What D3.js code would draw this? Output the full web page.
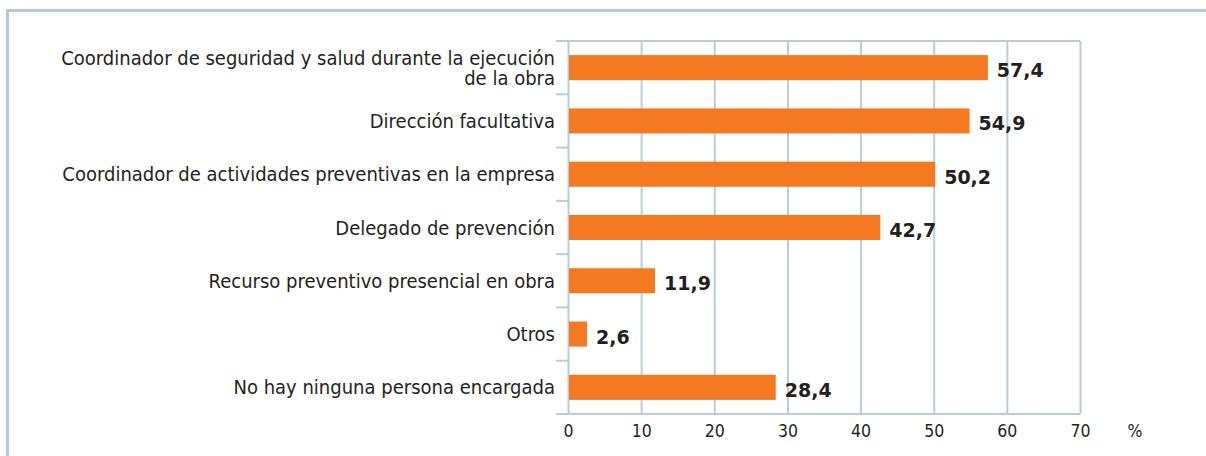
<!DOCTYPE html>
<html>
<head>
<meta charset="utf-8">
<script src="https://cdn.jsdelivr.net/npm/d3@7"></script>
<style>
  body { margin: 0; background: #ffffff; }
  text { font-family: "DejaVu Sans", Verdana, sans-serif; fill: #231f20; }
  .cond { font-family: "DejaVu Sans Condensed", "DejaVu Sans", sans-serif; font-stretch: condensed; }
</style>
</head>
<body>
<div id="chart"></div>
<script>
// DATA
var categories = [
  "Coordinador de seguridad y salud durante la ejecución\nde la obra",
  "Dirección facultativa",
  "Coordinador de actividades preventivas en la empresa",
  "Delegado de prevención",
  "Recurso preventivo presencial en obra",
  "Otros",
  "No hay ninguna persona encargada"
];
var values = [57.4, 54.9, 50.2, 42.7, 11.9, 2.6, 28.4];
var xTicks = [0, 10, 20, 30, 40, 50, 60, 70];
var unitLabel = "%";

// SVG SET UP
var svgWidth = 1206;
var svgHeight = 456;
var margin = { top: 41, left: 568 };
var width = 512;
var height = 373;

var gridColor = "#b7cdda";
var barColor = "#f47920";

var svg = d3.select("#chart")
  .append("svg")
  .attr("width", svgWidth)
  .attr("height", svgHeight);

// outer frame (top and left edges visible)
svg.append("path")
  .attr("d", "M7.5," + svgHeight + " V10.5 H" + svgWidth)
  .attr("fill", "none")
  .attr("stroke", "#b3cbd9")
  .attr("stroke-width", 3);

var chartGroup = svg.append("g")
  .attr("transform", `translate(${margin.left}, ${margin.top})`);

// scales
var xScale = d3.scaleLinear().domain([0, 70]).range([0, width]);
var yScale = d3.scaleBand()
  .domain(categories)
  .range([0, height])
  .paddingInner(0.53)
  .paddingOuter(0.265);

// vertical gridlines + tick labels
var xAxis = d3.axisBottom(xScale)
  .tickValues(xTicks)
  .tickSizeInner(-height)
  .tickSizeOuter(0)
  .tickPadding(11)
  .tickFormat(d3.format("d"));

var xAxisGroup = chartGroup.append("g")
  .attr("transform", `translate(0, ${height})`)
  .call(xAxis);

xAxisGroup.select(".domain").remove();
xAxisGroup.selectAll(".tick line")
  .attr("stroke", gridColor)
  .attr("stroke-width", 2);
xAxisGroup.selectAll(".tick text")
  .attr("class", "cond")
  .style("font-size", "17.5px")
  .attr("fill", "#231f20");

// horizontal lines at category boundaries
var step = yScale.step();
var boundaries = d3.range(categories.length + 1);
chartGroup.append("g").selectAll("line")
  .data(boundaries)
  .enter()
  .append("line")
  .attr("x1", -12)
  .attr("x2", (d, i) => (i === 0 || i === categories.length) ? width : 0)
  .attr("y1", d => d * step)
  .attr("y2", d => d * step)
  .attr("stroke", gridColor)
  .attr("stroke-width", 2);

// bars
chartGroup.append("g").selectAll("rect")
  .data(values)
  .enter()
  .append("rect")
  .attr("x", xScale(0) + 1)
  .attr("y", (d, i) => yScale(categories[i]))
  .attr("width", d => xScale(d) - xScale(0) - 1)
  .attr("height", yScale.bandwidth())
  .attr("fill", barColor);

// value labels
chartGroup.append("g").selectAll("text")
  .data(values)
  .enter()
  .append("text")
  .attr("x", d => xScale(d) + 9)
  .attr("y", (d, i) => yScale(categories[i]) + yScale.bandwidth() / 2)
  .attr("dy", "0.5em")
  .style("font-size", "19px")
  .style("font-weight", "bold")
  .text(d => d3.format(".1f")(d).replace(".", ","));

// category labels
var catLabels = chartGroup.append("g").selectAll("text")
  .data(categories)
  .enter()
  .append("text")
  .attr("class", "cond")
  .attr("text-anchor", "end")
  .style("font-size", "20px")
  .attr("y", d => yScale(d) + yScale.bandwidth() / 2);

catLabels.each(function(d) {
  var lines = d.split("\n");
  var el = d3.select(this);
  lines.forEach(function(line, j) {
    el.append("tspan")
      .attr("x", -13)
      .attr("dy", j === 0 ? (0.35 - (lines.length - 1) * 0.5) + "em" : "1em")
      .text(line);
  });
});

// unit label
chartGroup.append("text")
  .attr("class", "cond")
  .attr("x", width + 55)
  .attr("y", height + 11)
  .attr("dy", "0.71em")
  .attr("text-anchor", "middle")
  .style("font-size", "17.5px")
  .text(unitLabel);
</script>
</body>
</html>
